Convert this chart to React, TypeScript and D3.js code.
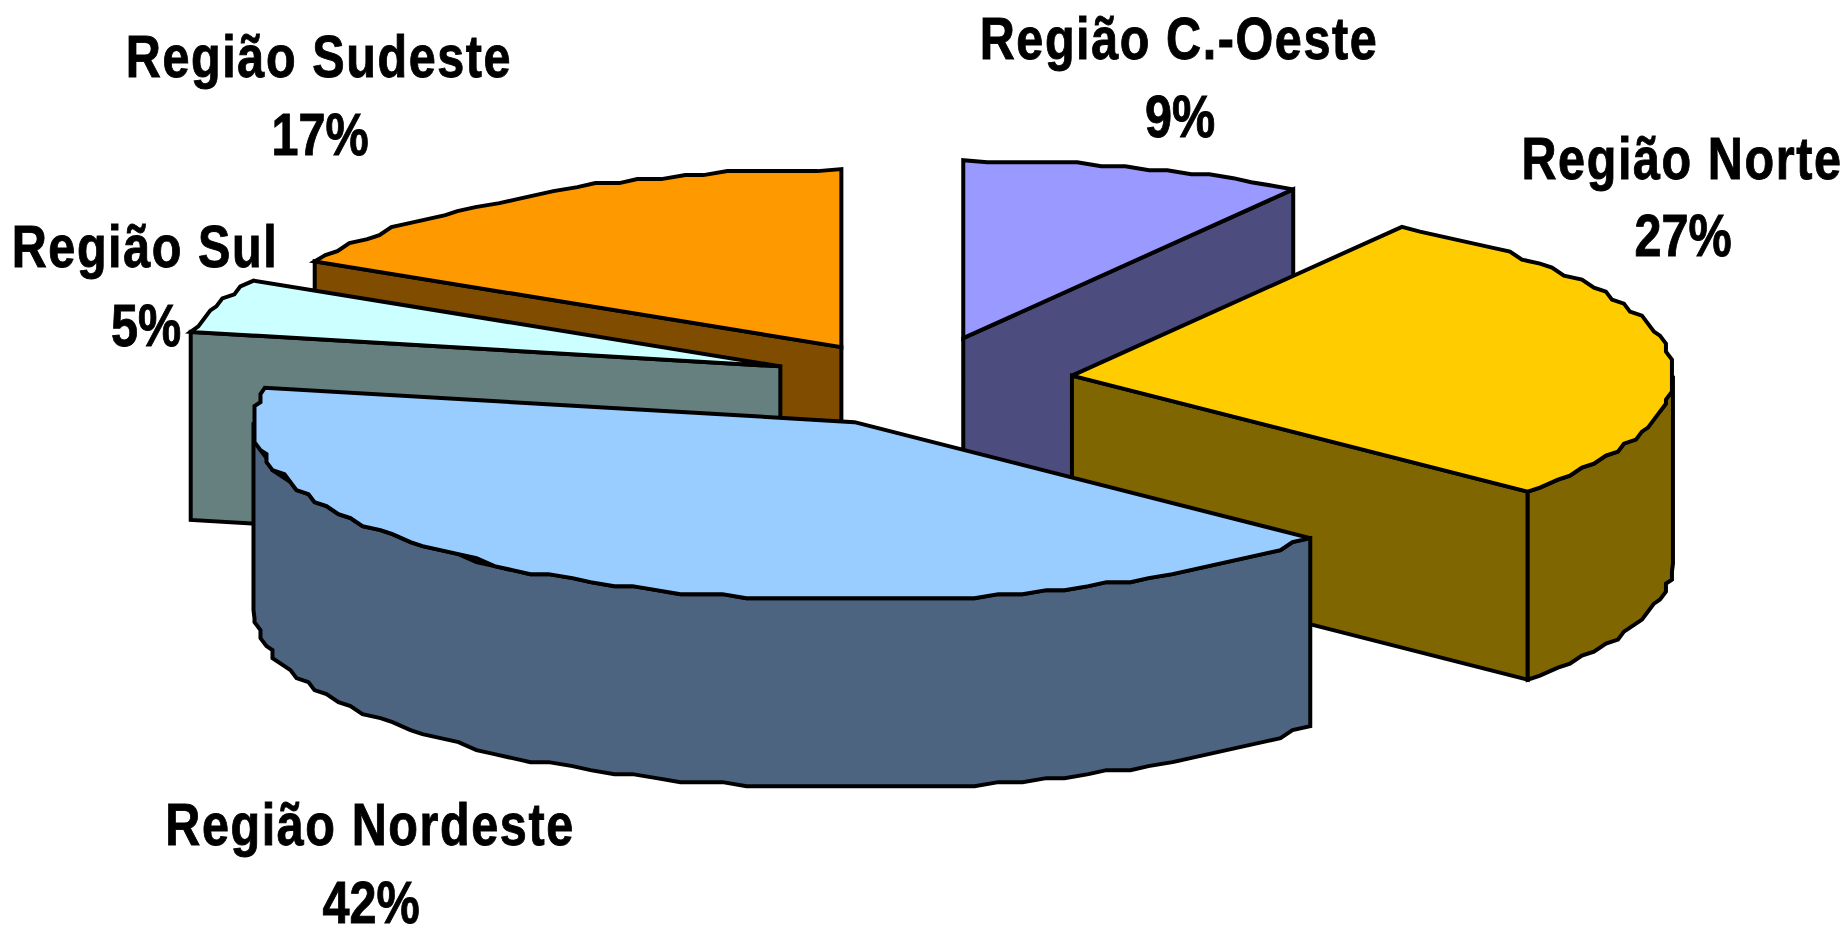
import React from "react";
import * as d3 from "d3";

const categories = ["Região C.-Oeste", "Região Norte", "Região Nordeste", "Região Sul", "Região Sudeste"];
const shares = [9.25, 27.05, 41.8, 4.9, 17];
const topColors = ["#9999FF", "#FFCC00", "#99CCFF", "#CCFFFF", "#FF9900"];
const wallColors = ["#4C4C7F", "#7F6600", "#4C6480", "#667F7F", "#7F4C00"];
const paintOrder = [0, 4, 3, 1, 2];
const labelX = [1179, 1682, 370, 145, 319];
const labelNameY = [59, 179, 845, 267, 77];
const labelPctY = [137, 256, 923, 346, 155];
const nudgeX = [0, 0, 3, 6.5, 1];
const nudgeY = [0, 0, -1, 0, 4.5];

const W = 1847, H = 926;
const cx = 919, cy = 382, rx = 601, ry = 178, depth = 188, explode = 0.257;
const stepAngle = (2.2 * Math.PI) / 180;
const gridX = 6, gridY = 4;

type P = [number, number];
const dir = (a: number, r = 1): P => [rx * r * Math.sin(a), -ry * r * Math.cos(a)];

function arcPoints(c: P, a0: number, a1: number): P[] {
  const n = Math.max(1, Math.round((a1 - a0) / stepAngle));
  return d3.range(n + 1).map((i) => {
    const a = a0 + ((a1 - a0) * i) / n;
    const [dx, dy] = dir(a);
    if (i === 0 || i === n) return [c[0] + dx, c[1] + dy] as P;
    return [c[0] + Math.round(dx / gridX) * gridX, c[1] + Math.round(dy / gridY) * gridY] as P;
  });
}

const line = d3.line<P>();
const closed = (pts: P[]) => (line(pts) as string) + "Z";
const down = (p: P): P => [p[0], p[1] + depth];

export default function App() {
  const arcs = d3.pie<number>().value((d) => d).sort(null).startAngle(0).endAngle(2 * Math.PI)(shares);
  const stroke = { stroke: "#000", strokeWidth: 4, strokeLinejoin: "miter" as const, strokeMiterlimit: 3 };

  const slices = paintOrder.map((i) => {
    const { startAngle: a0, endAngle: a1 } = arcs[i];
    const mid = (a0 + a1) / 2;
    const off = dir(mid, explode);
    const c: P = [cx + off[0] + nudgeX[i], cy + off[1] + nudgeY[i]];
    const [sx, sy] = dir(a0);
    const [ex, ey] = dir(a1);
    const s: P = [c[0] + sx, c[1] + sy];
    const e: P = [c[0] + ex, c[1] + ey];
    const walls: string[] = [];
    if (Math.sin(a0) < -1e-6) walls.push(closed([c, s, down(s), down(c)]));
    if (Math.sin(a1) > 1e-6) walls.push(closed([c, e, down(e), down(c)]));
    const f0 = Math.max(a0, Math.PI / 2), f1 = Math.min(a1, (3 * Math.PI) / 2);
    if (f1 > f0) {
      const upper = arcPoints(c, f0, f1);
      walls.push(closed([...upper, ...upper.slice().reverse().map(down)]));
    }
    return (
      <g key={categories[i]}>
        {walls.map((d, k) => (
          <path key={k} d={d} fill={wallColors[i]} {...stroke} />
        ))}
        <path d={closed([c, ...arcPoints(c, a0, a1)])} fill={topColors[i]} {...stroke} />
      </g>
    );
  });

  return (
    <svg width={W} height={H} viewBox={`0 0 ${W} ${H}`}
      style={{ position: "absolute", left: 0, top: 0, background: "#fff", display: "block" }}>
      {slices}
      <g fontFamily="'Liberation Sans', Arial, sans-serif" fontWeight="bold" fontSize={58.5} fill="#000"
        stroke="#000" strokeWidth={0.9} textAnchor="middle">
        {categories.map((name, i) => (
          <g key={name}>
            <text letterSpacing={1.9} transform={`translate(${labelX[i]},${labelNameY[i]}) scale(0.83,1)`}>{name}</text>
            <text transform={`translate(${labelX[i] + 1},${labelPctY[i]}) scale(0.83,1)`}>{Math.round(shares[i])}%</text>
          </g>
        ))}
      </g>
    </svg>
  );
}
